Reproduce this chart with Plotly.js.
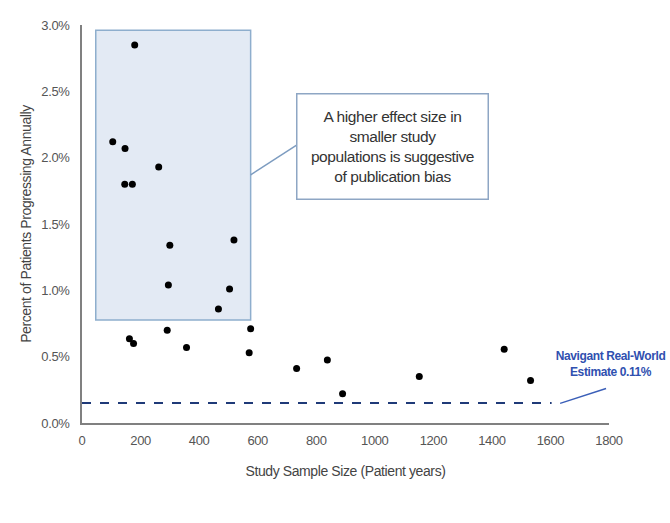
<!DOCTYPE html>
<html>
<head>
<meta charset="utf-8">
<script src="https://cdn.plot.ly/plotly-3.0.1.min.js"></script>
<style>html,body{margin:0;padding:0;background:#fff;}#chart{width:670px;height:523px;}
#chart text{letter-spacing:-0.4px;}</style>
</head>
<body>
<div id="chart"></div>
<script>
// Study sample size (patient years)
const sampleSize = [180, 105, 147, 262, 146, 172, 300, 519, 295, 504, 466, 291, 576, 162, 176, 357, 571, 733, 838, 890, 1152, 1442, 1532];
// Percent of patients progressing annually
const pctProgressing = [2.85, 2.12, 2.07, 1.93, 1.80, 1.80, 1.34, 1.38, 1.04, 1.01, 0.86, 0.70, 0.71, 0.635, 0.60, 0.57, 0.53, 0.41, 0.475, 0.22, 0.35, 0.555, 0.32];
// Navigant real-world estimate reference line
const refLineX = [0, 1604];
const refLineY = [0.15, 0.15];
const xTicks = [0, 200, 400, 600, 800, 1000, 1200, 1400, 1600, 1800];
const yTicks = [0, 0.5, 1.0, 1.5, 2.0, 2.5, 3.0];
const yTickText = ["0.0%", "0.5%", "1.0%", "1.5%", "2.0%", "2.5%", "3.0%"];

const FONT = "'Liberation Sans', Arial, sans-serif";

const traces = [
  {
    x: refLineX, y: refLineY, mode: "lines", type: "scatter",
    line: {color: "#1f3a78", width: 2, dash: "dash"},
    hoverinfo: "skip", showlegend: false
  },
  {
    x: sampleSize, y: pctProgressing, mode: "markers", type: "scatter",
    marker: {color: "#000", size: 7},
    showlegend: false
  }
];

const layout = {
  width: 670, height: 523,
  margin: {l: 82, r: 61, t: 25, b: 100},
  paper_bgcolor: "#fff", plot_bgcolor: "#fff",
  font: {family: FONT, color: "#555"},
  xaxis: {
    range: [0, 1800], tickvals: xTicks, showgrid: false, zeroline: false,
    showline: true, linecolor: "#808080", linewidth: 2, ticks: "",
    ticklabelstandoff: 4,
    tickfont: {size: 13, color: "#555", family: FONT},
    title: {text: "Study Sample Size (Patient years)", font: {size: 14, color: "#444", family: FONT}, standoff: 20}
  },
  yaxis: {
    range: [0, 3.0], tickvals: yTicks, ticktext: yTickText, showgrid: false, zeroline: false,
    showline: true, linecolor: "#808080", linewidth: 2, ticks: "",
    ticklabelstandoff: 8,
    tickfont: {size: 13, color: "#555", family: FONT},
    title: {text: "Percent of Patients Progressing Annually", font: {size: 14, color: "#444", family: FONT}, standoff: 5}
  },
  shapes: [
    {type: "rect", layer: "below", xref: "x", yref: "y", x0: 47, x1: 576, y0: 0.776, y1: 2.96,
      fillcolor: "#e3eaf4", line: {color: "#8eaecd", width: 1.5}},
    {type: "line", xref: "x", yref: "y", x0: 576, y0: 1.87, x1: 733, y1: 2.095,
      line: {color: "#7d9cc0", width: 1.5}},
    {type: "line", xref: "x", yref: "y", x0: 1633, y0: 0.148, x1: 1790, y1: 0.26,
      line: {color: "#3b5fb8", width: 1.5}}
  ],
  annotations: [
    {xref: "x", yref: "y", x: 1062, y: 2.085, showarrow: false,
      text: "A higher effect size in<br>smaller study<br>populations is suggestive<br>of publication bias",
      font: {size: 15.5, color: "#333", family: FONT}, align: "center",
      bgcolor: "#fff", bordercolor: "#8ea6c4", borderwidth: 1.5, width: 188, height: 102},
    {xref: "paper", yref: "y", x: 1.002, xanchor: "center", y: 0.445, yanchor: "middle", showarrow: false,
      text: "<b>Navigant Real-World<br>Estimate 0.11%</b>",
      font: {size: 12, color: "#3050b0", family: FONT}, align: "center"}
  ]
};

Plotly.newPlot("chart", traces, layout, {displayModeBar: false, staticPlot: true});
</script>
</body>
</html>
